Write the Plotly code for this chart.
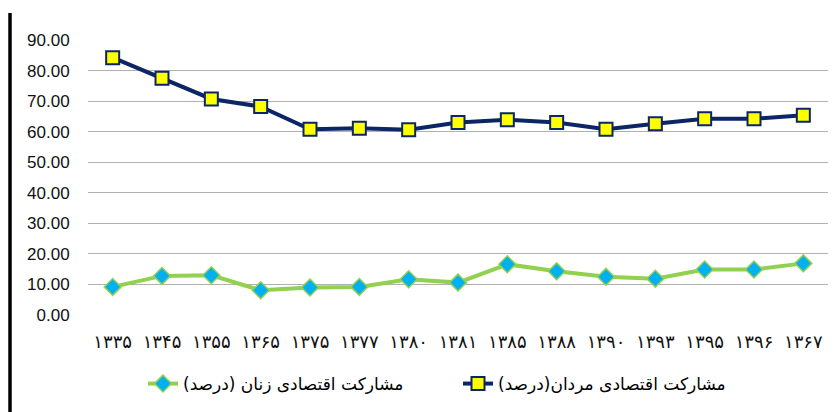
import plotly.graph_objects as go

years = ["۱۳۳۵", "۱۳۴۵", "۱۳۵۵", "۱۳۶۵", "۱۳۷۵", "۱۳۷۷", "۱۳۸۰", "۱۳۸۱",
         "۱۳۸۵", "۱۳۸۸", "۱۳۹۰", "۱۳۹۳", "۱۳۹۵", "۱۳۹۶", "۱۳۶۷"]
women = [9.2, 12.8, 13.0, 8.1, 9.0, 9.2, 11.7, 10.6, 16.6, 14.3, 12.5, 11.9, 14.9, 14.9, 16.9]
men = [84.2, 77.5, 70.7, 68.2, 60.8, 61.1, 60.6, 63.0, 63.9, 63.0, 60.8, 62.6, 64.2, 64.2, 65.4]
yticks = [0, 10, 20, 30, 40, 50, 60, 70, 80, 90]
women_name = "مشارکت اقتصادی زنان (درصد)"
men_name = "مشارکت اقتصادی مردان(درصد)"

fig = go.Figure()
fig.add_trace(go.Scatter(
    x=years, y=women, name=women_name, mode="lines+markers",
    line=dict(color="#92D050", width=4),
    marker=dict(symbol="diamond", size=13, color="#00B0F0",
                line=dict(color="#92D050", width=1.5)),
))
fig.add_trace(go.Scatter(
    x=years, y=men, name=men_name, mode="lines+markers",
    line=dict(color="#0B2566", width=4),
    marker=dict(symbol="square", size=13, color="#FFFF00",
                line=dict(color="#0B2566", width=2)),
))

# page body adds an 8px offset, so the figure is 8px smaller than the window
fig.update_layout(
    width=832, height=404,
    margin=dict(l=80, r=12, t=32, b=97, autoexpand=False),
    paper_bgcolor="white", plot_bgcolor="white",
    showlegend=True,
    legend=dict(orientation="h", x=0.5, xanchor="center", y=-0.251, yanchor="middle",
                font=dict(family="DejaVu Sans", size=17, color="#000000"),
                traceorder="normal", entrywidth=270, entrywidthmode="pixels"),
    shapes=[dict(type="line", xref="paper", yref="paper",
                 x0=-78/740, x1=-78/740, y0=-97/275, y1=(275+27)/275,
                 line=dict(color="black", width=3.5))],
)
fig.update_xaxes(
    type="category", range=[-0.5, 14.5], automargin=False,
    showgrid=False, zeroline=False, showline=False,
    ticks="outside", ticklen=10, tickcolor="rgba(0,0,0,0)",
    tickfont=dict(family="DejaVu Sans", size=18, color="#111111"),
)
fig.update_yaxes(
    range=[0, 90], tickvals=yticks, tickformat=".2f", automargin=False,
    showgrid=True, gridcolor="#B0B0B0", gridwidth=1, zeroline=False, showline=False,
    ticks="outside", ticklen=14, tickcolor="rgba(0,0,0,0)",
    tickfont=dict(family="Liberation Sans", size=17, color="#111111"),
)
fig.write_html("out.html")
